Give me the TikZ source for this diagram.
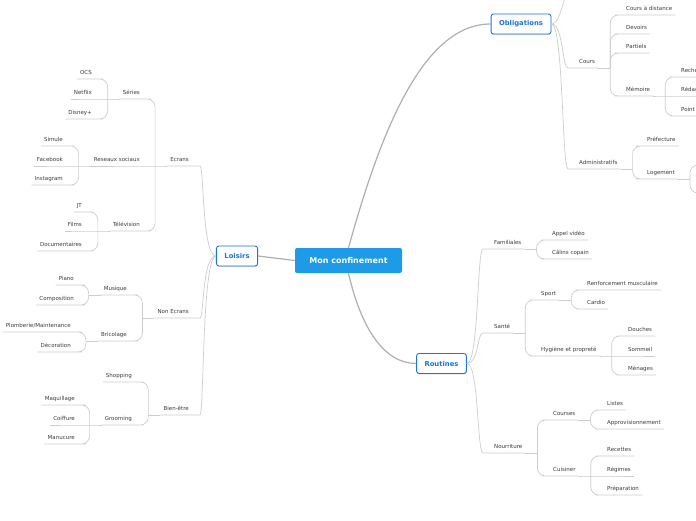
\documentclass[tikz,border=0pt]{standalone}
\usepackage{fontspec}
\setmainfont{DejaVu Sans}
\usetikzlibrary{shadows}
\definecolor{rootblue}{RGB}{30,155,230}
\definecolor{topicblue}{RGB}{28,116,220}
\definecolor{leafgray}{RGB}{60,60,60}
\definecolor{branchgray}{RGB}{205,205,205}
\definecolor{trunkgray}{RGB}{175,175,175}

\tikzset{
  rootbox/.style={fill=rootblue, text=white, rounded corners=2pt, font=\bfseries\fontsize{8}{10}\selectfont, minimum width=107pt, minimum height=25pt},
  topic/.style={draw=topicblue, line width=0.9pt, fill=white, text=topicblue, rounded corners=2.5pt, font=\bfseries\fontsize{6.8}{8}\selectfont, inner xsep=8pt, minimum height=20pt, drop shadow={shadow xshift=0.3pt, shadow yshift=-0.9pt, opacity=0.3}},
  leaf/.style={text=leafgray, font=\fontsize{5.5}{6.5}\selectfont, inner xsep=3pt, inner ysep=3pt, text height=4.2pt, text depth=1.3pt},
  leftleaf/.style={leaf, anchor=south east},
  rightleaf/.style={leaf, anchor=south west},
  branch/.style={draw=branchgray, line width=0.7pt, rounded corners=8pt},
  trunk/.style={draw=trunkgray, line width=1.2pt},
}

\begin{document}
\begin{tikzpicture}[x=1pt, y=-1pt]
    % Canvas
    \useasboundingbox (0,0) rectangle (696,520);
    \clip (0,0) rectangle (696,520);
    \fill[white] (0,0) rectangle (696,520);

    % Central topic and main branches
    \node[rootbox] (root) at (348.5,260.5) {Mon confinement};
    \node[topic] (loi) at (237,256) {Loisirs};
    \node[topic] (obl) at (521,24) {Obligations};
    \node[topic] (rou) at (441.5,363.5) {Routines};

    \draw[trunk] (root.west) -- (loi.east);
    \draw[trunk] (root.north) .. controls +(30,-108) and +(-70,0) .. (obl.west);
    \draw[trunk] (root.south) .. controls +(13,57) and +(-31,0) .. (rou.west);

    % Loisirs
    \foreach \n/\y/\txt in {ecr/166/Ecrans, nec/318/Non Ecrans, bie/415/Bien-être} {
        \node[leftleaf] (\n) at (192,\y) {\txt};
        \draw[branch] (loi.west) .. controls +(-14,0) and +(12,0) .. (\n.south east) -- (\n.south west);
    }

    % Ecrans
    \foreach \n/\y/\txt in {ser/99/Séries, res/166/Reseaux sociaux, tel/231/Télévision}
        \node[leftleaf] (\n) at (143,\y) {\txt};
    \draw[branch] (ecr.south west) -- ++(-12,0) coordinate (ecrj) -- (res.south east) -- (res.south west);
    \foreach \n in {ser,tel}
        \draw[branch] (ecrj) |- (\n.south east) -- (\n.south west);

    \foreach \n/\y/\txt in {ocs/79/OCS, net/99/Netflix, dis/119/Disney+}
        \node[leftleaf] (\n) at (95,\y) {\txt};
    \draw[branch] (ser.south west) -- ++(-12,0) coordinate (serj) -- (net.south east) -- (net.south west);
    \foreach \n in {ocs,dis}
        \draw[branch] (serj) |- (\n.south east) -- (\n.south west);

    \foreach \n/\y/\txt in {sim/146/Simule, fac/166/Facebook, ins/185/Instagram}
        \node[leftleaf] (\n) at (66,\y) {\txt};
    \draw[branch] (res.south west) -- ++(-12,0) coordinate (resj) -- (fac.south east) -- (fac.south west);
    \foreach \n in {sim,ins}
        \draw[branch] (resj) |- (\n.south east) -- (\n.south west);

    \foreach \n/\y/\txt in {jt/212/JT, fil/231/Films, doc/251/Documentaires}
        \node[leftleaf] (\n) at (85,\y) {\txt};
    \draw[branch] (tel.south west) -- ++(-12,0) coordinate (telj) -- (fil.south east) -- (fil.south west);
    \foreach \n in {jt,doc}
        \draw[branch] (telj) |- (\n.south east) -- (\n.south west);

    % Non Ecrans
    \foreach \n/\y/\txt in {mus/295/Musique, bri/341/Bricolage}
        \node[leftleaf] (\n) at (130,\y) {\txt};
    \draw[branch] (nec.south west) -- ++(-12,0) coordinate (necj);
    \foreach \n in {mus,bri}
        \draw[branch] (necj) |- (\n.south east) -- (\n.south west);

    \foreach \n/\y/\txt in {pia/285/Piano, com/305/Composition}
        \node[leftleaf] (\n) at (77,\y) {\txt};
    \draw[branch] (mus.south west) -- ++(-12,0) coordinate (musj);
    \foreach \n in {pia,com}
        \draw[branch] (musj) |- (\n.south east) -- (\n.south west);

    \node[leftleaf] (plo) at (74,332) {Plomberie/Maintenance};
    \node[leftleaf] (dec) at (74,352) {Décoration};
    \draw[branch] (bri.south west) -- ++(-12,0) coordinate (brij);
    \foreach \n in {plo,dec}
        \draw[branch] (brij) |- (\n.south east) -- (\n.south west);

    % Bien-etre
    \foreach \n/\y/\txt in {sho/382/Shopping, gro/425/Grooming}
        \node[leftleaf] (\n) at (135,\y) {\txt};
    \draw[branch] (bie.south west) -- ++(-12,0) coordinate (biej);
    \foreach \n in {sho,gro}
        \draw[branch] (biej) |- (\n.south east) -- (\n.south west);

    \foreach \n/\y/\txt in {maq/405/Maquillage, coi/425/Coiffure, man/444/Manucure}
        \node[leftleaf] (\n) at (78,\y) {\txt};
    \draw[branch] (gro.south west) -- ++(-12,0) coordinate (groj) -- (coi.south east) -- (coi.south west);
    \foreach \n in {maq,man}
        \draw[branch] (groj) |- (\n.south east) -- (\n.south west);

    % Obligations
    \coordinate (obltop) at (578,-22);
    \draw[branch] (obl.east) .. controls +(12,0) and +(-14,0) .. (obltop);
    \foreach \n/\y/\txt in {cou/68/Cours, adm/169/Administratifs} {
        \node[rightleaf] (\n) at (576,\y) {\txt};
        \draw[branch] (obl.east) .. controls +(12,0) and +(-14,0) .. (\n.south west) -- (\n.south east);
    }

    \foreach \n/\y/\txt in {cad/15/Cours à distance, dev/34/Devoirs, par/53/Partiels, mem/96/Mémoire}
        \node[rightleaf] (\n) at (623,\y) {\txt};
    \draw[branch] (cou.south east) -- ++(12,0) coordinate (couj);
    \foreach \n in {cad,dev,par,mem}
        \draw[branch] (couj) |- (\n.south west) -- (\n.south east);

    \foreach \n/\y/\txt in {rec/77/Recherche, red/96/Rédaction, pnt/116/Point}
        \node[rightleaf] (\n) at (678,\y) {\txt};
    \draw[branch] (mem.south east) -- ++(12,0) coordinate (memj) -- (red.south west) -- (red.south east);
    \foreach \n in {rec,pnt}
        \draw[branch] (memj) |- (\n.south west) -- (\n.south east);

    \foreach \n/\y/\txt in {pre/146/Préfecture, log/179/Logement}
        \node[rightleaf] (\n) at (644,\y) {\txt};
    \draw[branch] (adm.south east) -- ++(12,0) coordinate (admj);
    \foreach \n in {pre,log}
        \draw[branch] (admj) |- (\n.south west) -- (\n.south east);

    \coordinate (loga) at (720,165);
    \coordinate (logb) at (720,193);
    \draw[branch] (log.south east) -- ++(12,0) coordinate (logj);
    \foreach \n in {loga,logb}
        \draw[branch] (logj) |- (\n);

    % Routines
    \foreach \n/\y/\txt in {fam/249/Familiales, san/333/Santé, nou/453/Nourriture} {
        \node[rightleaf] (\n) at (491,\y) {\txt};
        \draw[branch] (rou.east) .. controls +(12,0) and +(-14,0) .. (\n.south west) -- (\n.south east);
    }

    \foreach \n/\y/\txt in {app/240/Appel vidéo, cal/259/Câlins copain}
        \node[rightleaf] (\n) at (549,\y) {\txt};
    \draw[branch] (fam.south east) -- ++(12,0) coordinate (famj);
    \foreach \n in {app,cal}
        \draw[branch] (famj) |- (\n.south west) -- (\n.south east);

    \foreach \n/\y/\txt in {spo/300/Sport, hyg/356/Hygiène et propreté}
        \node[rightleaf] (\n) at (538,\y) {\txt};
    \draw[branch] (san.south east) -- ++(12,0) coordinate (sanj);
    \foreach \n in {spo,hyg}
        \draw[branch] (sanj) |- (\n.south west) -- (\n.south east);

    \foreach \n/\y/\txt in {ren/290/Renforcement musculaire, car/309/Cardio}
        \node[rightleaf] (\n) at (584,\y) {\txt};
    \draw[branch] (spo.south east) -- ++(12,0) coordinate (spoj);
    \foreach \n in {ren,car}
        \draw[branch] (spoj) |- (\n.south west) -- (\n.south east);

    \foreach \n/\y/\txt in {dou/336/Douches, som/356/Sommeil, men/375/Ménages}
        \node[rightleaf] (\n) at (625,\y) {\txt};
    \draw[branch] (hyg.south east) -- ++(12,0) coordinate (hygj) -- (som.south west) -- (som.south east);
    \foreach \n in {dou,men}
        \draw[branch] (hygj) |- (\n.south west) -- (\n.south east);

    \foreach \n/\y/\txt in {crs/420/Courses, cui/476/Cuisiner}
        \node[rightleaf] (\n) at (550,\y) {\txt};
    \draw[branch] (nou.south east) -- ++(12,0) coordinate (nouj);
    \foreach \n in {crs,cui}
        \draw[branch] (nouj) |- (\n.south west) -- (\n.south east);

    \foreach \n/\y/\txt in {lis/410/Listes, apr/429/Approvisionnement}
        \node[rightleaf] (\n) at (604,\y) {\txt};
    \draw[branch] (crs.south east) -- ++(12,0) coordinate (crsj);
    \foreach \n in {lis,apr}
        \draw[branch] (crsj) |- (\n.south west) -- (\n.south east);

    \foreach \n/\y/\txt in {rct/456/Recettes, reg/476/Régimes, prp/495/Préparation}
        \node[rightleaf] (\n) at (604,\y) {\txt};
    \draw[branch] (cui.south east) -- ++(12,0) coordinate (cuij) -- (reg.south west) -- (reg.south east);
    \foreach \n in {rct,prp}
        \draw[branch] (cuij) |- (\n.south west) -- (\n.south east);
\end{tikzpicture}
\end{document}
